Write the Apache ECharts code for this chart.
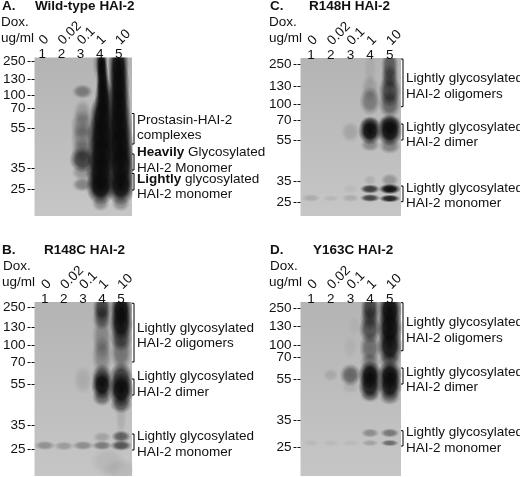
<!DOCTYPE html>
<html>
<head>
<meta charset="utf-8">
<script src="https://cdn.jsdelivr.net/npm/echarts@6/dist/echarts.min.js"></script>
<style>
html,body{margin:0;padding:0;background:#fff}
#container{width:520px;height:477px}
</style>
</head>
<body>
<div id="container"></div>
<script>
var FONT = '"Liberation Sans", Arial, sans-serif';
var lanes = [1, 2, 3, 4, 5];
var doses = ['0', '0.02', '0.1', '1', '10'];
var mwLabels = ['250', '130', '100', '70', '55', '35', '25'];

// marker positions, as migration distance from the top of the gel
var ticksA = [3.5, 22, 38, 51, 71, 111, 132];
var ticksB = [5.7, 25, 43, 60, 82, 123, 147];
var ticksC = [6, 28, 46, 62, 82, 123, 144];
var ticksD = [6, 24, 43, 55, 77, 118, 145];

// bands: lane, migration, width (lanes), height (migration), darkness
var bandsA = [
    [3.1,34,1,11,.38],[3.1,56,.9,22,.2],[3.1,68,1.15,24,.3],[3.1,80,1.15,24,.3],[3.1,92,1.1,18,.3],
    [3.1,102,1.25,20,.72],[3.1,115,1.05,12,.25],[3.1,127,1,11,.35],
    [3.95,6,.6,26,.25],[4.1,6,.55,30,1],[4.15,24,.62,36,1],[4.2,42,.85,36,1],[4.12,60,1.2,36,1],[4.1,78,1.4,36,1],
    [4.1,96,1.45,36,1],[4.05,114,1.45,36,1],[4.05,129,1.4,28,1],[4.05,146,.85,12,.3],
    [4.98,8,1,40,1],[5,28,1.05,40,1],[5,48,1.15,40,1],[5.02,68,1.3,40,1],[5.05,88,1.4,40,1],
    [5.1,108,1.45,40,1],[5.1,128,1.4,30,1],[5.1,146,.9,12,.3]
];
var bandsB = [
    [1,143.5,1.05,7,.28],[2,144,1,7,.22],[3,143.5,1.05,7,.3],[4,143.5,1,7,.4],[5,143.5,1.05,8,.62],
    [4,135,.9,8,.18],[5,134.5,.95,9,.55],[5,112,.55,40,.1],
    [3,78,.95,22,.1],
    [4,6,.9,22,.7],[4,16,.95,18,.5],[4,35,.95,36,.3],[4,54,1,30,.3],
    [4,74,1,18,.6],[4,83,1.05,22,.98],[4,95,.95,14,.5],
    [5,8,1.1,28,1],[5,22,1.15,26,.95],[5,36,1.1,20,.6],[5,50,1.05,30,.42],
    [5,76,1.15,24,.75],[5,88,1.25,26,1],[5,102,1.05,14,.55],
    [4.3,160,1.8,24,.07],[5,168,1.9,18,.07]
];
var bandsC = [
    [1,140,.9,6,.13],[2,140.5,.8,5,.07],[3,140,.85,6,.13],[4,140,.95,6,.7],[5,140.5,1,6,.88],
    [3,131,.8,7,.05],[4,131,.95,7,.75],[5,131,1.05,8,1],[4,122,.6,8,.1],[5,122,.85,10,.25],
    [3,74,.9,16,.14],
    [4,66,.95,12,.5],[4,73,1.1,21,1],[4,87,.9,10,.3],[5,66,1.1,15,.75],[5,73,1.2,23,1],[5,88,1,12,.35],
    [4,10,.6,30,.07],[4,30,.85,20,.15],[4,43,1,22,.38],
    [5,8,.8,30,.55],[5,20,.85,20,.45],[5,33,1.05,24,.65],[5,46,1.05,22,.5]
];
var bandsD = [
    [1,141,.8,5,.05],[2,141,.8,5,.05],[3,141,.8,5,.05],
    [4,131,.85,7,.3],[5,131,.9,7,.42],[4,141,.8,5,.18],[5,141,.85,5,.48],
    [2,73,.75,10,.11],[3,73,1,17,.5],[3,85,.85,10,.08],
    [4,73,1.1,22,1],[4,84,1.1,22,.9],[4,94,.95,10,.3],
    [5,73,1.15,22,1],[5,84,1.15,22,.95],[5,95,1,12,.4],
    [3,45,.7,18,.05],[3.2,24,.6,16,.04],
    [4,6,.9,24,.7],[4,16,.95,18,.45],[4,27,1.05,22,.6],[4,46,1,24,.45],[4,60,.95,14,.3],
    [5,8,1.15,30,1],[5,26,1.2,30,1],[5,44,1.2,28,.95],[5,58,1.05,14,.45]
];

// brackets: top and bottom migration
var bracketsA = [[56,86.5],[96.5,112.5],[116,132.5]];
var bracketsB = [[1.3,60],[77,93],[132,148]];
var bracketsC = [[1,48.7],[66,82],[128,143.7]];
var bracketsD = [[0.7,48.7],[66,82],[128.7,144]];

// notes beside the gel: migration, text
var notesA = [[62.5,'Prostasin-HAI-2'],[78,'complexes'],[95,'{b|Heavily} Glycosylated'],[111,'HAI-2 Monomer'],[121.5,'{b|Lightly} glycosylated'],[137,'HAI-2 monomer']];
var notesB = [[26,'Lightly glycosylated'],[41.3,'HAI-2 oligomers'],[74.7,'Lightly glycosylated'],[90,'HAI-2 dimer'],[134.7,'Lightly glycosylated'],[150,'HAI-2 monomer']];
var notesC = [[20.7,'Lightly glycosylated'],[36,'HAI-2 oligomers'],[69.7,'Lightly glycosylated'],[84.7,'HAI-2 dimer'],[130,'Lightly glycosylated'],[145,'HAI-2 monomer']];
var notesD = [[20.7,'Lightly glycosylated'],[36,'HAI-2 oligomers'],[70,'Lightly glycosylated'],[85.3,'HAI-2 dimer'],[130.7,'Lightly glycosylated'],[146.3,'HAI-2 monomer']];

var panels = [
    {letter:'A.', name:'Wild-type HAI-2', box:[32,57.5,100,158.5], laneMin:.592, laneMax:5.69, ticks:ticksA, bands:bandsA, brackets:bracketsA, notes:notesA, head:[2,6,35,1,22,1,38]},
    {letter:'B.', name:'R148C HAI-2', box:[32,302,100,174], laneMin:.464, laneMax:5.57, ticks:ticksB, bands:bandsB, brackets:bracketsB, notes:notesB, head:[2,250,44,3,266,2,282]},
    {letter:'C.', name:'R148H HAI-2', box:[300.5,58,100.5,158], laneMin:.467, laneMax:5.57, ticks:ticksC, bands:bandsC, brackets:bracketsC, notes:notesC, head:[270,6,309,269,22,269,38]},
    {letter:'D.', name:'Y163C HAI-2', box:[300.5,302,100.5,174], laneMin:.467, laneMax:5.57, ticks:ticksD, bands:bandsD, brackets:bracketsD, notes:notesD, head:[270,250,313,270,266,269,282]}
];

function colr(a){ return 'rgba(10,10,10,' + a + ')'; }

function renderBand(params, api){
    var c = api.coord([api.value(0), api.value(1)]);
    var s = api.size([api.value(2), api.value(3)]);
    var a = api.value(4);
    return {
        type:'circle',
        x:c[0], y:c[1],
        scaleX:s[0]*1.1/100, scaleY:s[1]*1.35/100,
        shape:{cx:0, cy:0, r:50},
        style:{fill:new echarts.graphic.RadialGradient(.5,.5,.5,[
            {offset:0, color:colr(a)},
            {offset:.5, color:colr(a*.88)},
            {offset:.75, color:colr(a*.4)},
            {offset:1, color:colr(0)}
        ])}
    };
}

function renderBracket(params, api){
    var area = params.coordSys;
    var x = area.x + area.width;
    var y0 = api.coord([1, api.value(0)])[1];
    var y1 = api.coord([1, api.value(1)])[1];
    return {
        type:'polyline',
        shape:{points:[[x,y0],[x+2,y0],[x+2,y1],[x,y1]]},
        style:{stroke:'#000', lineWidth:1, fill:null}
    };
}

function makeNoteRenderer(notes){
    return function(params, api){
        var area = params.coordSys;
        var y = api.coord([1, api.value(0)])[1];
        return {
            type:'text',
            x:area.x + area.width + 5, y:y,
            style:{
                text:notes[params.dataIndex][1],
                fontFamily:FONT, fontSize:13.5, fill:'#111',
                verticalAlign:'middle',
                rich:{b:{fontFamily:FONT, fontSize:13.5, fontWeight:'bold', fill:'#111'}}
            }
        };
    };
}

var option = {
    animation:false,
    backgroundColor:'#fff',
    grid:[], xAxis:[], yAxis:[], series:[], graphic:[]
};

panels.forEach(function(p, i){
    option.grid.push({
        left:p.box[0], top:p.box[1], width:p.box[2], height:p.box[3],
        show:true, borderWidth:0,
        backgroundColor:new echarts.graphic.LinearGradient(0,0,0,1,[
            {offset:0, color:'#b4b4b4'},{offset:1, color:'#c6c6c6'}
        ])
    });
    // lane numbers
    option.xAxis.push({
        type:'value', gridIndex:i, position:'top', min:p.laneMin, max:p.laneMax,
        splitLine:{show:false}, axisLine:{show:false}, axisTick:{show:false},
        axisLabel:{customValues:lanes, margin:-4, fontFamily:FONT, fontSize:13.5, color:'#111',
            formatter:function(v){ return String(v); }}
    });
    // doses, rotated above the lane numbers
    option.xAxis.push({
        type:'value', gridIndex:i, position:'top', offset:13, min:p.laneMin + .05, max:p.laneMax + .05,
        splitLine:{show:false}, axisLine:{show:false}, axisTick:{show:false},
        axisLabel:{customValues:lanes, rotate:-45, margin:2, align:'left', verticalAlign:'middle', hideOverlap:false,
            fontFamily:FONT, fontSize:13.5, color:'#111',
            formatter:function(v){ return doses[lanes.indexOf(v)]; }}
    });
    option.yAxis.push({
        type:'value', gridIndex:i, inverse:true, min:0, max:p.box[3],
        splitLine:{show:false}, axisLine:{show:false},
        axisTick:{show:true, customValues:p.ticks, length:8, inside:false,
            lineStyle:{color:'#111', width:1, type:[3,1]}},
        axisLabel:{customValues:p.ticks, margin:9, fontFamily:FONT, fontSize:13.5, color:'#111',
            formatter:function(v){ return mwLabels[p.ticks.indexOf(v)]; }}
    });
    var axes = {xAxisIndex:i*2, yAxisIndex:i};
    option.series.push(Object.assign({type:'custom', renderItem:renderBand, data:p.bands, silent:true, clip:true, encode:{x:0,y:1}}, axes));
    option.series.push(Object.assign({type:'custom', renderItem:renderBracket, data:p.brackets, silent:true, encode:{y:0}}, axes));
    option.series.push(Object.assign({type:'custom', renderItem:makeNoteRenderer(p.notes), data:p.notes.map(function(n){ return [n[0]]; }), silent:true, encode:{y:0}}, axes));

    var h = p.head;
    var head = [
        [p.letter, h[0], h[1], 'bold'],
        [p.name, h[2], h[1], 'bold'],
        ['Dox.', h[3], h[4], 'normal'],
        ['ug/ml', h[5], h[6], 'normal']
    ];
    head.forEach(function(t){
        option.graphic.push({
            type:'text', x:t[1], y:t[2], silent:true,
            style:{text:t[0], fontFamily:FONT, fontSize:13.5, fontWeight:t[3], fill:'#111', verticalAlign:'middle'}
        });
    });
});

var myChart = echarts.init(document.getElementById('container'));
myChart.setOption(option);
</script>
</body>
</html>
